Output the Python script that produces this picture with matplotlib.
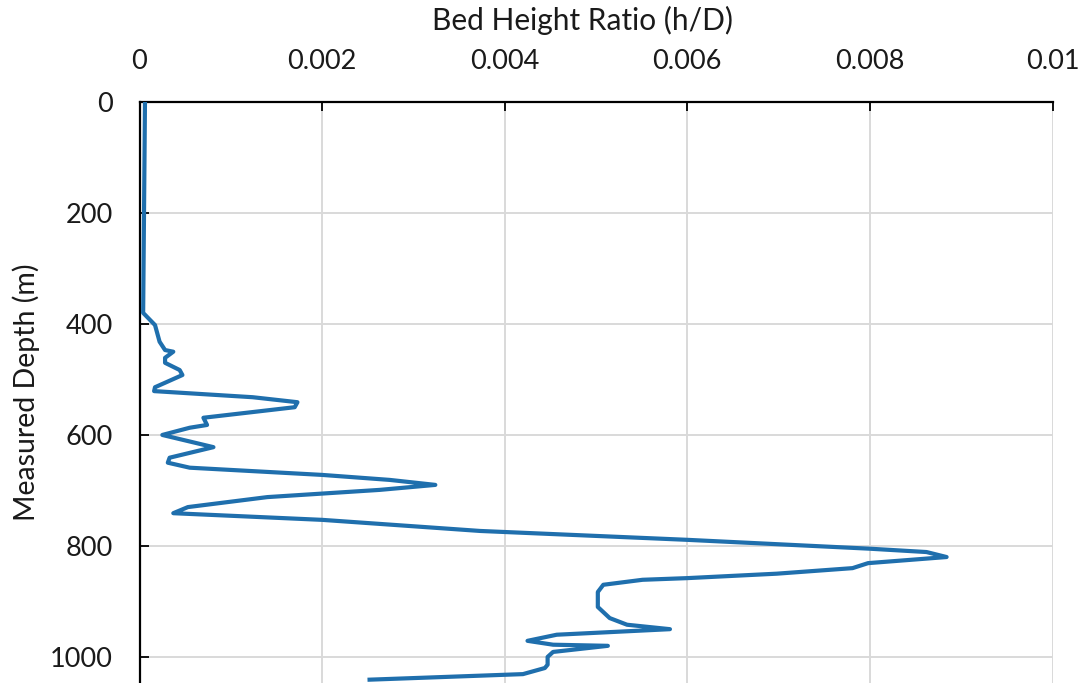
import matplotlib
matplotlib.use('Agg')
import matplotlib.pyplot as plt

# ── Data (bed height ratio vs measured depth) ───────────────────────────
depth_m = [0, 380, 402, 432, 447, 450, 461, 470, 483, 492, 514, 521, 532,
           541, 550, 569, 582, 587, 600, 622, 641, 650, 659, 672, 681, 690,
           699, 712, 730, 741, 753, 773, 789, 805, 811, 820, 831, 840, 850,
           858, 861, 870, 883, 910, 930, 942, 950, 960, 971, 978, 980, 991,
           1000, 1014, 1020, 1031, 1041]
bed_ratio = [0.00006, 0.00004, 0.00017, 0.00022, 0.00028, 0.00037, 0.00028,
             0.00028, 0.00044, 0.00047, 0.00017, 0.00016, 0.00124, 0.00173,
             0.00170, 0.00070, 0.00074, 0.00055, 0.00025, 0.00081, 0.00033,
             0.00031, 0.00055, 0.00200, 0.00274, 0.00324, 0.00263, 0.00140,
             0.00053, 0.00037, 0.00200, 0.00373, 0.00600, 0.00800, 0.00862,
             0.00884, 0.00798, 0.00781, 0.00698, 0.00600, 0.00551, 0.00508,
             0.00502, 0.00502, 0.00515, 0.00534, 0.00581, 0.00457, 0.00425,
             0.00453, 0.00513, 0.00453, 0.00447, 0.00447, 0.00444, 0.00420,
             0.00252]

x_ticks = [0, 0.002, 0.004, 0.006, 0.008, 0.01]
x_tick_labels = ['0', '0.002', '0.004', '0.006', '0.008', '0.01']
y_ticks = [0, 200, 400, 600, 800, 1000]

plt.rcParams['font.family'] = ['Lato', 'DejaVu Sans']

fig = plt.figure(figsize=(10.83, 6.83), dpi=100)
ax = fig.add_axes([139.5 / 1083, 0.0, (1052.5 - 139.5) / 1083, 1 - 102 / 683])

ax.plot(bed_ratio, depth_m, color='#1f6fad', linewidth=3.0,
        solid_joinstyle='round', zorder=3)

ax.set_xlim(0, 0.01)
ax.set_ylim(1047, 0)

ax.xaxis.set_ticks_position('top')
ax.xaxis.set_label_position('top')
ax.set_xticks(x_ticks)
ax.set_xticklabels(x_tick_labels)
ax.set_yticks(y_ticks)

ax.tick_params(axis='both', direction='in', length=6.5, width=1.3,
               color='black', labelsize=19.5, labelcolor='#1a1a1a')
ax.tick_params(axis='x', pad=20)
ax.tick_params(axis='y', pad=19)

ax.set_xlabel('Bed Height Ratio (h/D)', fontsize=21.5, color='#1a1a1a')
ax.xaxis.set_label_coords(0.485, 1.0 + 82 / 581)
ax.xaxis.label.set_va('center')
ax.set_ylabel('Measured Depth (m)', fontsize=20.5, color='#1a1a1a')
ax.yaxis.set_label_coords(-99 / 913, 0.5)

ax.grid(True, color='#d9d9d9', linewidth=1.4, zorder=0)
ax.set_axisbelow(True)

for side in ['right', 'bottom']:
    ax.spines[side].set_visible(False)
for side in ['top', 'left']:
    ax.spines[side].set_color('black')
    ax.spines[side].set_linewidth(1.6)

fig.savefig('out.png', dpi=100)
